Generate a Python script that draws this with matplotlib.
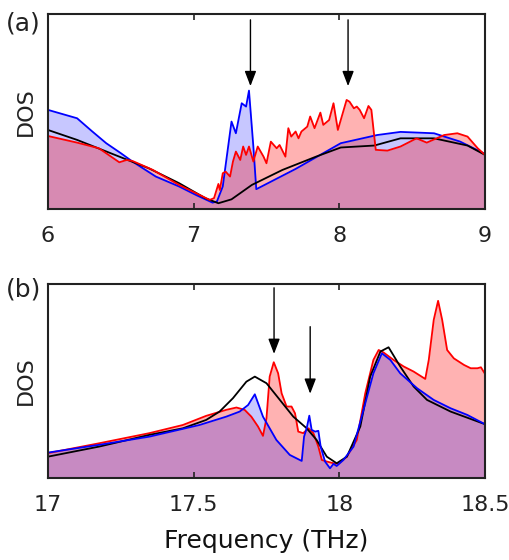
import matplotlib
matplotlib.use("Agg")
import matplotlib.pyplot as plt

# ---- panel (a) data, 6-9 THz ----
a_blue_x = [6.00, 6.20, 6.30, 6.40, 6.50, 6.58, 6.74, 6.90, 7.02, 7.13, 7.16, 7.20, 7.26,
            7.29, 7.33, 7.36, 7.38, 7.41, 7.43, 7.70, 8.01, 8.26, 8.42, 8.65, 8.83, 9.00]
a_blue_y = [50.8, 46.5, 40.0, 33.7, 28.6, 24.3, 16.6, 11.5, 7.0, 3.2, 3.8, 11.5, 44.8,
            38.8, 54.2, 52.5, 60.7, 32.0, 10.1, 20.5, 33.7, 37.9, 39.5, 38.8, 34.5, 28.2]

a_red_x = [6.00, 6.20, 6.35, 6.49, 6.54, 6.58, 6.72, 6.90, 7.04, 7.11, 7.14, 7.17, 7.18,
           7.20, 7.22, 7.25, 7.27, 7.29, 7.32, 7.34, 7.36, 7.38, 7.41, 7.44, 7.48, 7.50,
           7.53, 7.57, 7.59, 7.63, 7.65, 7.67, 7.70, 7.72, 7.74, 7.78, 7.80, 7.83, 7.87,
           7.89, 7.93, 7.96, 7.99, 8.02, 8.05, 8.07, 8.10, 8.12, 8.14, 8.17, 8.20, 8.22,
           8.25, 8.33, 8.42, 8.53, 8.60, 8.72, 8.81, 8.88, 8.95, 9.00]
a_red_y = [37.4, 34.0, 31.1, 23.9, 25.1, 24.6, 20.0, 12.3, 7.2, 4.6, 5.5, 12.8, 9.7,
           18.3, 19.1, 16.6, 24.3, 29.4, 25.1, 32.0, 27.7, 32.0, 24.3, 32.0, 26.8, 23.4,
           34.5, 31.1, 32.8, 26.8, 41.4, 37.1, 39.7, 36.2, 39.7, 42.2, 47.4, 41.4, 49.4,
           43.1, 45.6, 54.2, 40.5, 48.2, 55.9, 55.0, 51.6, 52.5, 50.8, 46.5, 52.8, 50.8,
           30.3, 29.9, 32.0, 36.2, 34.0, 37.9, 38.8, 37.1, 31.1, 27.7]

a_black_x = [6.00, 6.20, 6.49, 6.69, 6.90, 7.08, 7.17, 7.26, 7.40, 7.61, 7.84, 8.01, 8.24,
             8.42, 8.65, 8.88, 9.00]
a_black_y = [40.5, 35.4, 26.8, 20.9, 13.2, 5.5, 2.9, 4.9, 12.3, 20.0, 26.8, 31.5, 32.5,
             36.2, 36.2, 32.5, 27.7]

# ---- panel (b) data, 17-18.5 THz ----
b_blue_x = [17.000, 17.176, 17.348, 17.520, 17.612, 17.658, 17.687, 17.710, 17.738, 17.784,
            17.830, 17.871, 17.879, 17.888, 17.897, 17.905, 17.917, 17.928, 17.936, 17.951,
            17.968, 17.980, 17.991, 18.014, 18.049, 18.083, 18.117, 18.146, 18.175, 18.209,
            18.267, 18.324, 18.382, 18.439, 18.500]
b_blue_y = [13.2, 17.2, 21.4, 27.4, 31.7, 34.3, 37.7, 43.2, 31.7, 19.7,
            12.0, 8.9, 21.4, 25.7, 32.2, 24.9, 24.0, 24.4, 16.3, 8.6,
            5.1, 7.4, 6.3, 9.4, 16.3, 35.2, 54.0, 64.3, 60.9, 54.0,
            46.3, 40.3, 36.0, 32.6, 27.8]

b_red_x = [17.000, 17.176, 17.348, 17.463, 17.543, 17.612, 17.647, 17.675, 17.698, 17.721,
           17.738, 17.750, 17.761, 17.775, 17.790, 17.802, 17.819, 17.836, 17.848, 17.859,
           17.876, 17.894, 17.911, 17.928, 17.940, 17.957, 17.980, 17.997, 18.026, 18.060,
           18.089, 18.117, 18.135, 18.152, 18.186, 18.221, 18.255, 18.295, 18.307, 18.324,
           18.339, 18.353, 18.370, 18.393, 18.428, 18.451, 18.474, 18.486, 18.500]
b_red_y = [12.9, 18.0, 23.2, 27.4, 32.1, 35.2, 36.4, 35.2, 31.7, 26.6,
           21.8, 30.9, 52.3, 59.7, 54.0, 43.7, 36.9, 36.9, 33.4, 24.0,
           23.2, 25.7, 23.2, 16.3, 9.4, 8.6, 7.7, 7.4, 11.1, 19.7,
           43.7, 60.9, 66.0, 64.7, 60.9, 57.5, 54.9, 51.1, 60.9, 81.5,
           91.3, 81.5, 66.0, 61.7, 58.3, 56.6, 56.6, 57.1, 53.7]

b_black_x = [17.000, 17.176, 17.348, 17.463, 17.543, 17.589, 17.635, 17.681, 17.710, 17.750,
             17.796, 17.842, 17.888, 17.922, 17.957, 17.991, 18.026, 18.072, 18.106, 18.141,
             18.169, 18.209, 18.255, 18.301, 18.382, 18.500]
b_black_y = [11.1, 16.3, 22.3, 25.7, 30.0, 34.3, 41.2, 49.7, 52.3, 48.9,
             40.3, 31.7, 25.7, 19.7, 11.1, 7.7, 11.1, 26.6, 52.3, 65.2,
             67.4, 57.5, 47.2, 40.3, 34.3, 27.8]

# arrows: x position, start and tip heights
a_arrow_x = [7.39, 8.06]
a_arrow_top = [97, 97]
a_arrow_tip = [63, 63]
b_arrow_x = [17.776, 17.90]
b_arrow_top = [98, 78]
b_arrow_tip = [64, 43.5]

plt.rcParams['font.family'] = ['DejaVu Sans']

fig = plt.figure(figsize=(5.1, 5.6), dpi=100)
ax_a = fig.add_axes([0.094, 0.627, 0.857, 0.348])
ax_b = fig.add_axes([0.094, 0.146, 0.857, 0.347])

red_fill = (1.0, 0.0, 0.0, 0.3)
blue_fill = (0.0, 0.0, 1.0, 0.22)

# panel (a): blue under, red fill on top
ax_a.fill_between(a_blue_x, a_blue_y, 0, color=blue_fill, lw=0)
ax_a.plot(a_blue_x, a_blue_y, color='blue', lw=1.3)
ax_a.plot(a_black_x, a_black_y, color='black', lw=1.3)
ax_a.fill_between(a_red_x, a_red_y, 0, color=red_fill, lw=0)
ax_a.plot(a_red_x, a_red_y, color='red', lw=1.3)

# panel (b): red under, blue fill on top
ax_b.fill_between(b_red_x, b_red_y, 0, color=red_fill, lw=0)
ax_b.plot(b_red_x, b_red_y, color='red', lw=1.3)
ax_b.plot(b_black_x, b_black_y, color='black', lw=1.3)
ax_b.fill_between(b_blue_x, b_blue_y, 0, color=blue_fill, lw=0)
ax_b.plot(b_blue_x, b_blue_y, color='blue', lw=1.3)

arrow_style = dict(arrowstyle='-|>,head_width=0.25,head_length=0.65',
                   color='black', lw=1.0, mutation_scale=14, shrinkA=0, shrinkB=0)
for x, y0, y1 in zip(a_arrow_x, a_arrow_top, a_arrow_tip):
    ax_a.annotate('', xy=(x, y1), xytext=(x, y0), arrowprops=arrow_style)
for x, y0, y1 in zip(b_arrow_x, b_arrow_top, b_arrow_tip):
    ax_b.annotate('', xy=(x, y1), xytext=(x, y0), arrowprops=arrow_style)

ax_a.set_xlim(6, 9)
ax_a.set_xticks([6, 7, 8, 9])
ax_b.set_xlim(17, 18.5)
ax_b.set_xticks([17, 17.5, 18, 18.5])
ax_b.set_xticklabels(['17', '17.5', '18', '18.5'])

for ax in (ax_a, ax_b):
    ax.set_ylim(0, 100)
    ax.set_yticks([])
    ax.tick_params(axis='x', direction='in', top=True, length=4, width=1.2,
                   labelsize=16, pad=12, colors='#222222', labelcolor='#222222')
    for s in ax.spines.values():
        s.set_linewidth(1.5)
        s.set_color('#222222')
    ax.set_ylabel('DOS', fontsize=16, labelpad=9, color='#222222')

ax_b.set_xlabel('Frequency (THz)', fontsize=18, labelpad=10, color='#111111')

fig.text(0.012, 0.98, '(a)', fontsize=18, va='top', ha='left', color='#222222')
fig.text(0.012, 0.504, '(b)', fontsize=18, va='top', ha='left', color='#222222')

fig.savefig('out.png', dpi=100)
